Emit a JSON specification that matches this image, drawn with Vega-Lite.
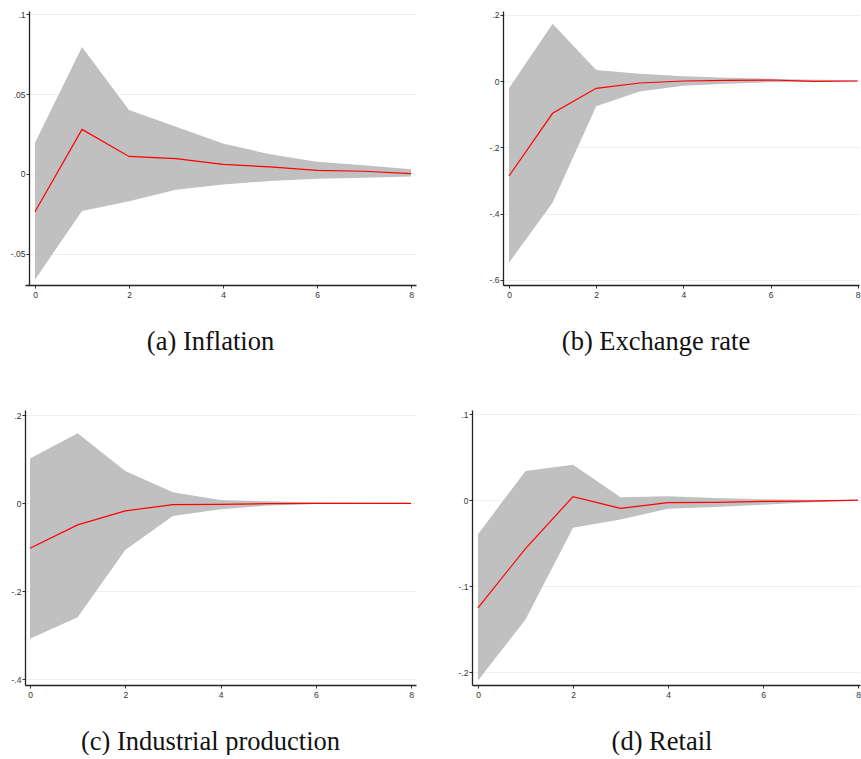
{
  "$schema": "https://vega.github.io/schema/vega-lite/v6.json",
  "padding": {"left": 10, "top": 10, "right": 0, "bottom": 0},
  "background": "white",
  "spacing": 55,
  "config": {
    "view": {"stroke": null},
    "axis": {
      "labelFont": "Liberation Sans",
      "labelFontSize": 8.5,
      "labelColor": "#333333",
      "domainColor": "#222222",
      "domainWidth": 1.3,
      "tickColor": "#333333",
      "tickSize": 3,
      "title": null,
      "labelFlush": false,
      "labelOverlap": false
    },
    "axisX": {"grid": false, "labelPadding": 2},
    "axisY": {"grid": true, "gridColor": "#e9f1f1", "gridWidth": 1, "labelPadding": 1},
    "title": {"font": "Liberation Serif", "fontSize": 26.5, "fontWeight": "normal", "color": "#111111", "orient": "bottom", "anchor": "middle", "frame": "group", "offset": 30}
  },
  "datasets": {
    "irf": [
      {"p": "a", "h": 0, "est": -0.0236, "lo": -0.066, "hi": 0.0196},
      {"p": "a", "h": 1, "est": 0.0279, "lo": -0.0231, "hi": 0.0794},
      {"p": "a", "h": 2, "est": 0.011, "lo": -0.0171, "hi": 0.040},
      {"p": "a", "h": 3, "est": 0.0096, "lo": -0.0098, "hi": 0.0296},
      {"p": "a", "h": 4, "est": 0.006, "lo": -0.0065, "hi": 0.019},
      {"p": "a", "h": 5, "est": 0.0044, "lo": -0.0044, "hi": 0.0123},
      {"p": "a", "h": 6, "est": 0.0023, "lo": -0.0029, "hi": 0.0077},
      {"p": "a", "h": 7, "est": 0.0017, "lo": -0.0023, "hi": 0.0054},
      {"p": "a", "h": 8, "est": 0.0002, "lo": -0.0015, "hi": 0.0029},
      {"p": "b", "h": 0, "est": -0.2866, "lo": -0.548, "hi": -0.022},
      {"p": "b", "h": 1, "est": -0.0975, "lo": -0.367, "hi": 0.173},
      {"p": "b", "h": 2, "est": -0.0221, "lo": -0.076, "hi": 0.033},
      {"p": "b", "h": 3, "est": -0.006, "lo": -0.032, "hi": 0.022},
      {"p": "b", "h": 4, "est": 0.0, "lo": -0.014, "hi": 0.014},
      {"p": "b", "h": 5, "est": 0.002, "lo": -0.008, "hi": 0.010},
      {"p": "b", "h": 6, "est": 0.003, "lo": -0.004, "hi": 0.007},
      {"p": "b", "h": 7, "est": -0.001, "lo": -0.002, "hi": 0.004},
      {"p": "b", "h": 8, "est": 0.0, "lo": -0.001, "hi": 0.002},
      {"p": "c", "h": 0, "est": -0.1023, "lo": -0.308, "hi": 0.102},
      {"p": "c", "h": 1, "est": -0.0492, "lo": -0.259, "hi": 0.159},
      {"p": "c", "h": 2, "est": -0.0174, "lo": -0.106, "hi": 0.0735},
      {"p": "c", "h": 3, "est": -0.003, "lo": -0.0288, "hi": 0.025},
      {"p": "c", "h": 4, "est": -0.0023, "lo": -0.0136, "hi": 0.0076},
      {"p": "c", "h": 5, "est": -0.001, "lo": -0.0053, "hi": 0.0045},
      {"p": "c", "h": 6, "est": 0.0, "lo": -0.0015, "hi": 0.0015},
      {"p": "c", "h": 7, "est": 0.0, "lo": -0.0008, "hi": 0.001},
      {"p": "c", "h": 8, "est": 0.0, "lo": -0.0005, "hi": 0.0008},
      {"p": "d", "h": 0, "est": -0.1253, "lo": -0.210, "hi": -0.0397},
      {"p": "d", "h": 1, "est": -0.0564, "lo": -0.139, "hi": 0.0339},
      {"p": "d", "h": 2, "est": 0.0039, "lo": -0.0323, "hi": 0.0409},
      {"p": "d", "h": 3, "est": -0.0097, "lo": -0.0226, "hi": 0.0031},
      {"p": "d", "h": 4, "est": -0.0031, "lo": -0.0101, "hi": 0.0043},
      {"p": "d", "h": 5, "est": -0.0027, "lo": -0.0082, "hi": 0.0023},
      {"p": "d", "h": 6, "est": -0.0016, "lo": -0.0054, "hi": 0.0008},
      {"p": "d", "h": 7, "est": -0.0012, "lo": -0.0027, "hi": 0.0004},
      {"p": "d", "h": 8, "est": 0.0, "lo": -0.0008, "hi": 0.0}
    ]
  },
  "vconcat": [
    {
      "hconcat": [
        {
          "width": 391, "height": 274,
          "title": {"text": "(a) Inflation", "dx": -10},
          "data": {"name": "irf"},
          "transform": [{"filter": "datum.p === 'a'"}],
          "layer": [
            {
              "mark": {"type": "area", "color": "#c0c0c0", "opacity": 1},
              "encoding": {
                "x": {"field": "h", "type": "quantitative", "scale": {"domain": [-0.2128, 8.106], "nice": false, "zero": false}, "axis": {"values": [0, 2, 4, 6, 8]}},
                "y": {"field": "hi", "type": "quantitative", "scale": {"domain": [-0.0694, 0.1019], "nice": false, "zero": false}, "axis": {"values": [-0.05, 0, 0.05, 0.1], "offset": -4, "labelExpr": "datum.value == 0 ? '0' : replace(datum.value + '', '0.', '.')"}},
                "y2": {"field": "lo"}
              }
            },
            {
              "mark": {"type": "line", "color": "#ff0000", "strokeWidth": 1.2},
              "encoding": {
                "x": {"field": "h", "type": "quantitative"},
                "y": {"field": "est", "type": "quantitative"}
              }
            }
          ]
        },
        {
          "width": 356, "height": 274,
          "title": {"text": "(b) Exchange rate", "dx": -25},
          "data": {"name": "irf"},
          "transform": [{"filter": "datum.p === 'b'"}],
          "layer": [
            {
              "mark": {"type": "area", "color": "#c0c0c0", "opacity": 1},
              "encoding": {
                "x": {"field": "h", "type": "quantitative", "scale": {"domain": [-0.1377, 8.03], "nice": false, "zero": false}, "axis": {"values": [0, 2, 4, 6, 8]}},
                "y": {"field": "hi", "type": "quantitative", "scale": {"domain": [-0.6154, 0.2112], "nice": false, "zero": false}, "axis": {"values": [-0.6, -0.4, -0.2, 0, 0.2], "labelExpr": "datum.value == 0 ? '0' : replace(datum.value + '', '0.', '.')"}},
                "y2": {"field": "lo"}
              }
            },
            {
              "mark": {"type": "line", "color": "#ff0000", "strokeWidth": 1.2},
              "encoding": {
                "x": {"field": "h", "type": "quantitative"},
                "y": {"field": "est", "type": "quantitative"}
              }
            }
          ]
        }
      ],
      "spacing": 87,
      "bounds": "flush"
    },
    {
      "hconcat": [
        {
          "width": 391, "height": 275,
          "title": {"text": "(c) Industrial production", "dx": -10},
          "data": {"name": "irf"},
          "transform": [{"filter": "datum.p === 'c'"}],
          "layer": [
            {
              "mark": {"type": "area", "color": "#c0c0c0", "opacity": 1},
              "encoding": {
                "x": {"field": "h", "type": "quantitative", "scale": {"domain": [-0.105, 8.105], "nice": false, "zero": false}, "axis": {"values": [0, 2, 4, 6, 8]}},
                "y": {"field": "hi", "type": "quantitative", "scale": {"domain": [-0.413, 0.212], "nice": false, "zero": false}, "axis": {"values": [-0.4, -0.2, 0, 0.2], "labelExpr": "datum.value == 0 ? '0' : replace(datum.value + '', '0.', '.')"}},
                "y2": {"field": "lo"}
              }
            },
            {
              "mark": {"type": "line", "color": "#ff0000", "strokeWidth": 1.2},
              "encoding": {
                "x": {"field": "h", "type": "quantitative"},
                "y": {"field": "est", "type": "quantitative"}
              }
            }
          ]
        },
        {
          "width": 388, "height": 275,
          "title": {"text": "(d) Retail", "dx": -4},
          "data": {"name": "irf"},
          "transform": [{"filter": "datum.p === 'd'"}],
          "layer": [
            {
              "mark": {"type": "area", "color": "#c0c0c0", "opacity": 1},
              "encoding": {
                "x": {"field": "h", "type": "quantitative", "scale": {"domain": [-0.1263, 8.042], "nice": false, "zero": false}, "axis": {"values": [0, 2, 4, 6, 8]}},
                "y": {"field": "hi", "type": "quantitative", "scale": {"domain": [-0.2151, 0.1047], "nice": false, "zero": false}, "axis": {"values": [-0.2, -0.1, 0, 0.1], "labelExpr": "datum.value == 0 ? '0' : replace(datum.value + '', '0.', '.')"}},
                "y2": {"field": "lo"}
              }
            },
            {
              "mark": {"type": "line", "color": "#ff0000", "strokeWidth": 1.2},
              "encoding": {
                "x": {"field": "h", "type": "quantitative"},
                "y": {"field": "est", "type": "quantitative"}
              }
            }
          ]
        }
      ],
      "spacing": 56,
      "bounds": "flush"
    }
  ]
}
